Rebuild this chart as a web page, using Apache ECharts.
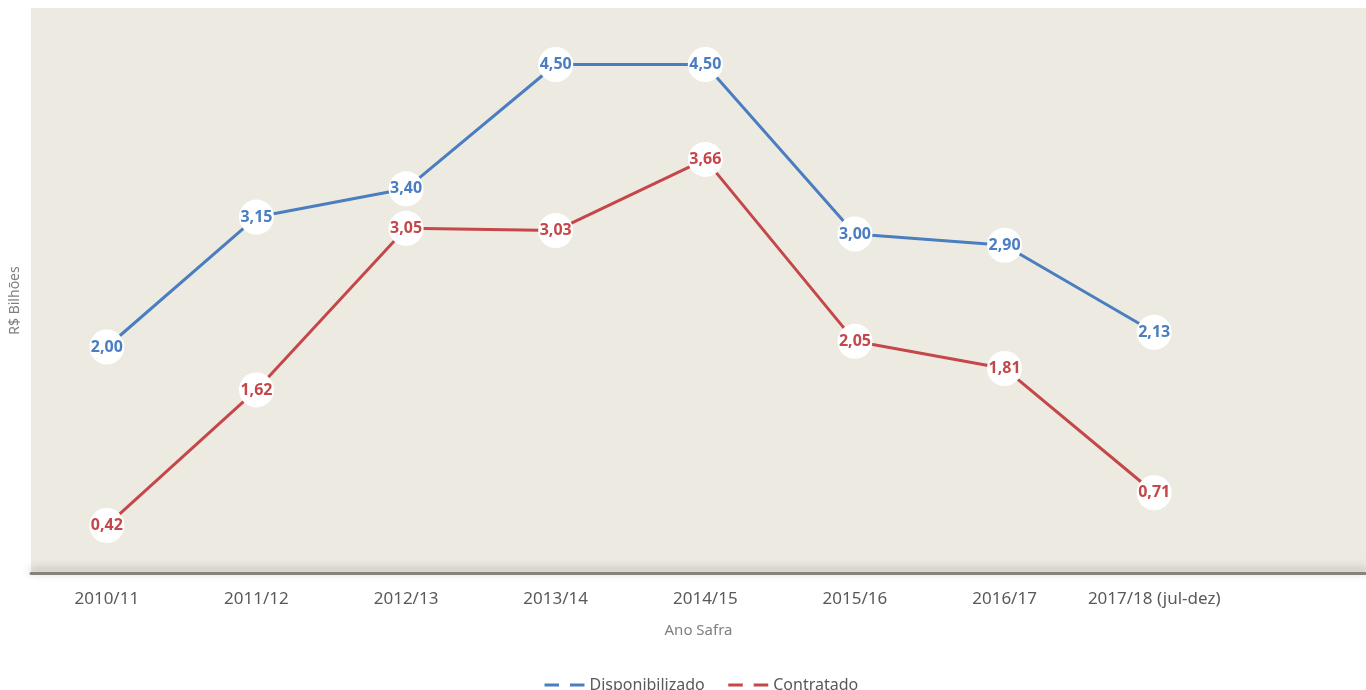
<!DOCTYPE html>
<html>
<head>
<meta charset="utf-8">
<title>Disponibilizado x Contratado</title>
<script src="https://cdn.jsdelivr.net/npm/echarts@6/dist/echarts.min.js"></script>
<style>
  html, body { margin: 0; padding: 0; background: #fff; }
  #chart { width: 1366px; height: 690px; }
</style>
</head>
<body>
<div id="chart"></div>
<script>
// dados
const safras = ['2010/11', '2011/12', '2012/13', '2013/14', '2014/15', '2015/16', '2016/17', '2017/18 (jul-dez)']
const disponibilizado = [2.00, 3.15, 3.40, 4.50, 4.50, 3.00, 2.90, 2.13]
const contratado = [0.42, 1.62, 3.05, 3.03, 3.66, 2.05, 1.81, 0.71]

const azul = '#4a7ec0'
const vermelho = '#c4474a'
const fonte = '"Noto Sans", sans-serif'

const chart = echarts.init(document.getElementById('chart'))

const serie = (nome, dados, cor) => ({
  name: nome,
  type: 'line',
  xAxisIndex: 1,
  yAxisIndex: 1,
  data: dados,
  symbol: 'circle',
  symbolSize: 35,
  itemStyle: { color: '#fff', borderWidth: 0 },
  lineStyle: { color: cor, width: 3 },
  label: {
    show: true,
    position: 'inside',
    color: cor,
    fontFamily: fonte,
    fontWeight: 'bold',
    fontSize: 16,
    formatter: (p) => p.value.toFixed(2).replace('.', ',')
  },
  z: 3
})

const option = {
  animation: false,
  textStyle: { fontFamily: fonte },
  legend: {
    bottom: -8,
    left: 538,
    itemWidth: 40,
    itemHeight: 14,
    itemGap: 22,
    lineStyle: { width: 3 },
    textStyle: { color: '#595959', fontSize: 16, fontFamily: fonte },
    data: ['Disponibilizado', 'Contratado']
  },
  grid: [
    // fundo bege em toda a largura
    { left: 31, right: 0, top: 8, bottom: 117, show: true, backgroundColor: '#edebe1', borderWidth: 0 },
    // área das séries
    { left: 29, width: 1200, top: 8, bottom: 117 }
  ],
  xAxis: [
    {
      gridIndex: 0,
      type: 'value',
      min: 0,
      max: 1,
      axisLabel: { show: false },
      axisTick: { show: false },
      splitLine: { show: false },
      axisLine: {
        show: true,
        onZero: false,
        lineStyle: {
          color: '#85827b',
          width: 3,
          shadowColor: 'rgba(60,55,45,0.45)',
          shadowBlur: 8,
          shadowOffsetY: -3
        }
      },
      name: 'Ano Safra',
      nameLocation: 'middle',
      nameGap: 50,
      nameTextStyle: { color: '#7f7f7f', fontSize: 15, fontFamily: fonte }
    },
    {
      gridIndex: 1,
      type: 'category',
      data: safras,
      boundaryGap: true,
      axisLine: { show: false },
      axisTick: { show: false },
      axisLabel: { interval: 0, color: '#595959', fontSize: 17, margin: 18, fontFamily: fonte }
    }
  ],
  yAxis: [
    {
      gridIndex: 0,
      type: 'value',
      min: 0,
      max: 5,
      show: false
    },
    {
      gridIndex: 1,
      type: 'value',
      min: 0,
      max: 5,
      interval: 1,
      axisLine: { show: false },
      axisTick: { show: false },
      axisLabel: { show: false },
      splitLine: { show: false },
      name: 'R$ Bilhões',
      nameLocation: 'middle',
      nameGap: 10,
      nameRotate: 90,
      nameTextStyle: { color: '#7f7f7f', fontSize: 14, fontFamily: fonte, padding: [0, 20, 0, 0] }
    }
  ],
  series: [
    serie('Disponibilizado', disponibilizado, azul),
    serie('Contratado', contratado, vermelho)
  ]
}

chart.setOption(option)
window.addEventListener('resize', () => chart.resize())
</script>
</body>
</html>
